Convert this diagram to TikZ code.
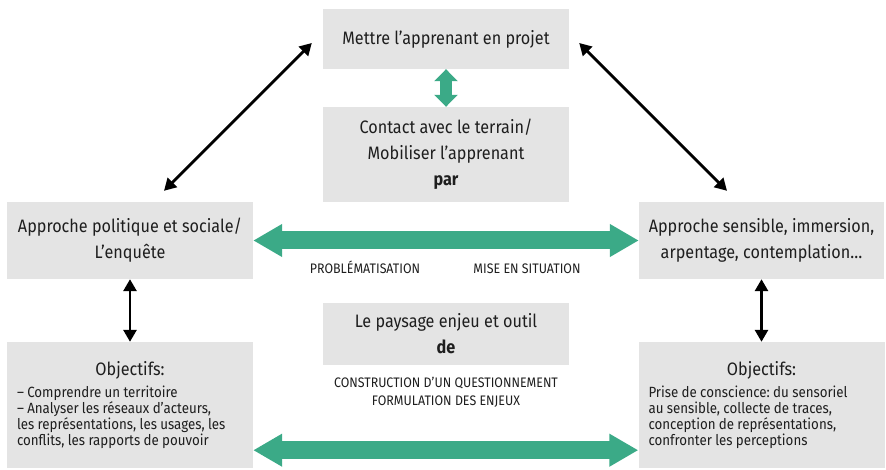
\documentclass[tikz,border=0pt]{standalone}
\usepackage{fontspec}
\setmainfont{Fira Sans}[FakeStretch=0.9]
\usetikzlibrary{arrows.meta,calc}
\frenchspacing

\definecolor{boxgrey}{HTML}{E4E4E4}
\definecolor{leaf}{HTML}{3BAA87}
\definecolor{ink}{HTML}{1E1E1E}

\newcommand{\mainsize}{\fontsize{18}{26}\selectfont}
\newcommand{\listsize}{\fontsize{14.8}{16}\selectfont}
\newcommand{\capsize}{\fontsize{13.8}{18}\selectfont}

\begin{document}
\begin{tikzpicture}[x=1pt,y=1pt,
  box/.style={fill=boxgrey, inner sep=0pt, text=ink},
  mainbox/.style={box, minimum width=246pt, align=center, font=\mainsize},
  listbox/.style={box, minimum width=246pt, minimum height=126pt, inner xsep=10pt, text width=226pt},
  lab/.style={text=ink, font=\capsize, inner sep=0pt, align=center},
  blackarrow/.style={draw=black, line width=2.8pt,
    {Triangle[width=13pt,length=12pt]}-{Triangle[width=13pt,length=12pt]}},
  greenwide/.style={draw=leaf, line width=18pt,
    {Triangle[width=31pt,length=29pt]}-{Triangle[width=31pt,length=29pt]}},
  greennarrow/.style={draw=leaf, line width=12pt,
    {Triangle[width=23pt,length=12pt]}-{Triangle[width=23pt,length=12pt]}}
]
\useasboundingbox (0,0) rectangle (886,469);

% central column
\node[mainbox, minimum height=60pt] (top) at (446,430) {Mettre l’apprenant en projet};
\node[mainbox, minimum height=95pt] (mid) at (446,314.5)
  {Contact avec le terrain/\\Mobiliser l’apprenant\\\textbf{par}};
\node[mainbox, minimum height=62pt] (pay) at (446,135)
  {Le paysage enjeu et outil\\\textbf{de}};

% side approaches
\node[mainbox, minimum height=77pt] (lu) at (130,228.5)
  {Approche politique et sociale/\\L’enquête};
\node[mainbox, minimum width=245pt, minimum height=77pt] (ru) at (761.5,228.5)
  {Approche sensible, immersion,\\arpentage, contemplation…};

% objectives
\node[listbox] (lo) at (130,64)
  {{\centering\mainsize Objectifs:\par}\vspace{6pt}%
   {\raggedright\listsize – Comprendre un territoire\\
   – Analyser les réseaux d’acteurs,\\
   les représentations, les usages, les\\
   conflits, les rapports de pouvoir\par}};
\node[listbox, minimum width=245pt] (ro) at (761.5,64)
  {{\centering\mainsize Objectifs:\par}\vspace{6pt}%
   {\raggedright\listsize Prise de conscience: du sensoriel\\
   au sensible, collecte de traces,\\
   conception de représentations,\\
   confronter les perceptions\par}};

% captions
\node[lab, anchor=base] (prob) at (365,195) {PROBLÉMATISATION};
\node[lab, anchor=base] (sit) at (527,195) {MISE EN SITUATION};
\node[lab, anchor=base] (quest) at (446,64)
  {CONSTRUCTION D’UN QUESTIONNEMENT\\FORMULATION DES ENJEUX};

% connectors
\draw[greennarrow] (top.south) -- (mid.north);
\draw[greenwide] (lu.east) -- (ru.west);
\coordinate (lobar) at ($(lo.south east)+(0,18)$);
\coordinate (robar) at ($(ro.south west)+(0,18)$);
\draw[greenwide] (lobar) -- (robar);

\draw[blackarrow] ($(lu.north)+(34,11)$) -- ($(top.west)+(-11,-4)$);
\draw[blackarrow] ($(ru.north)+(-34.5,11)$) -- ($(top.east)+(10,-4)$);
\draw[blackarrow] (lu.south) -- (lo.north);
\draw[blackarrow] (ru.south) -- (ro.north);
\end{tikzpicture}
\end{document}
